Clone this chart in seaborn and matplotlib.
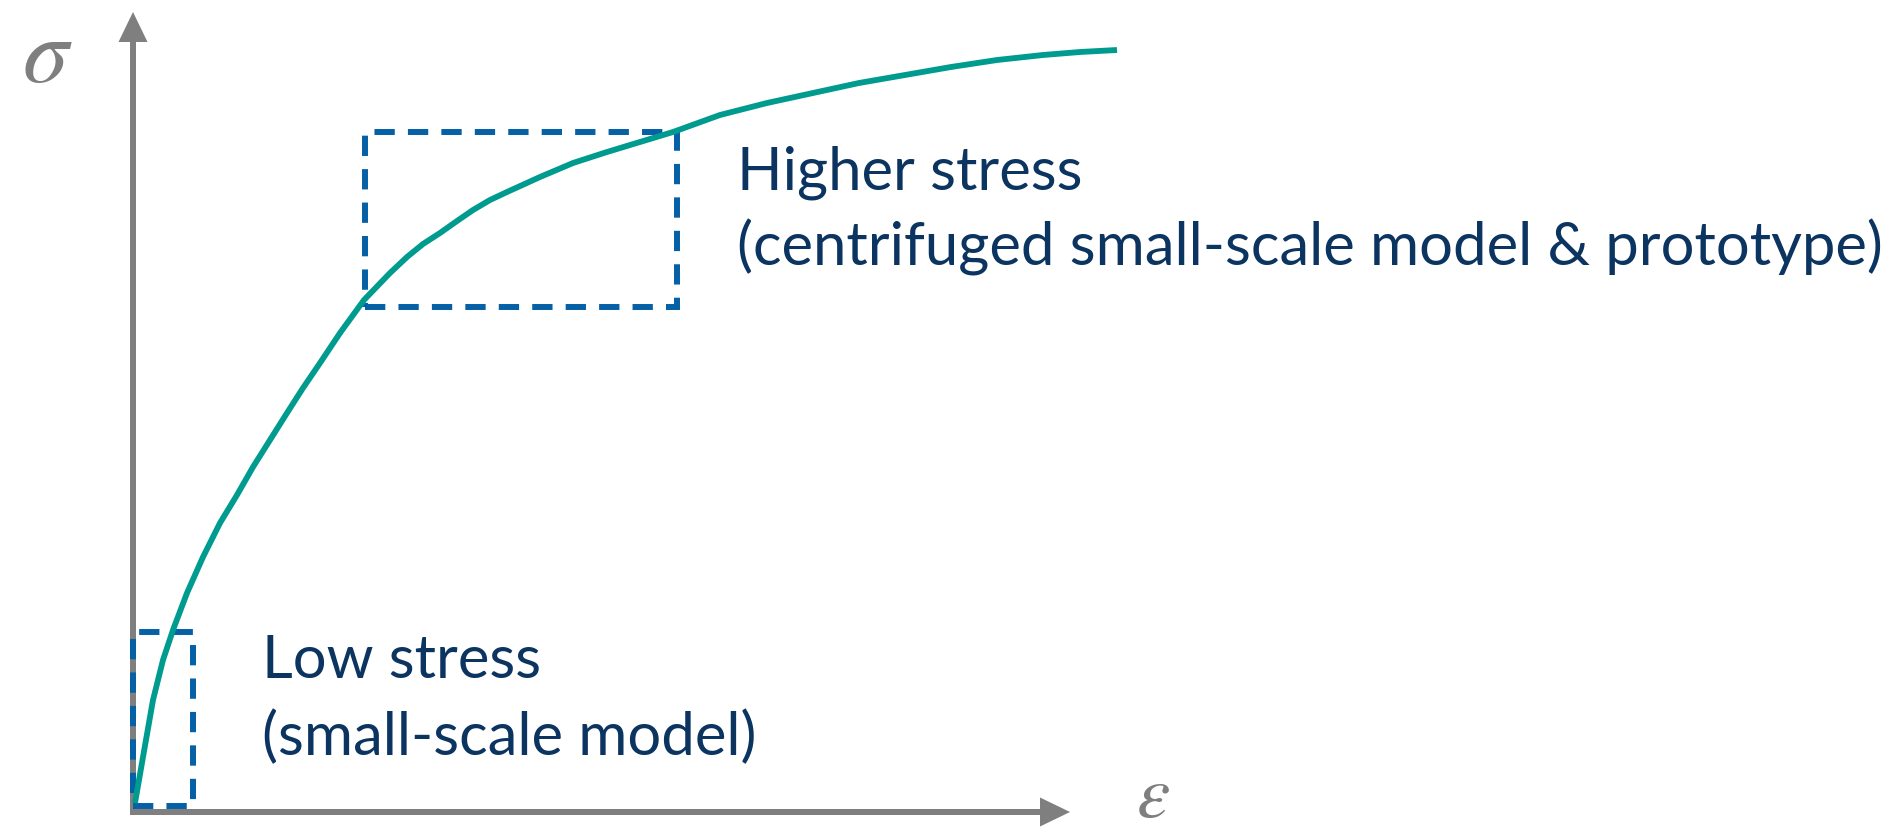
import numpy as np
import pandas as pd
import matplotlib
matplotlib.use('Agg')
import matplotlib.pyplot as plt
from matplotlib.patches import Rectangle, FancyArrow
import seaborn as sns

sns.set_theme(style='white')
plt.rcParams['font.family'] = ['Lato', 'DejaVu Sans']
plt.rcParams['mathtext.fontset'] = 'stix'

# stress-strain curve (arbitrary units)
strain = [0.02, 0.10, 0.20, 0.30, 0.40, 0.54, 0.70, 0.87, 1.04, 1.20, 1.37,
          1.54, 1.70, 1.87, 2.07, 2.31, 2.57, 2.74, 2.90, 3.07, 3.24, 3.40,
          3.57, 3.74, 4.07, 4.40, 4.74, 5.07, 5.40, 5.87, 6.34, 6.80, 7.26,
          7.72, 8.18, 8.64, 9.10, 9.47, 9.84]
stress = [0.09, 0.55, 1.12, 1.52, 1.82, 2.19, 2.55, 2.89, 3.17, 3.45, 3.72,
          3.99, 4.24, 4.49, 4.79, 5.12, 5.39, 5.55, 5.68, 5.79, 5.91, 6.02,
          6.12, 6.20, 6.35, 6.49, 6.60, 6.70, 6.80, 6.97, 7.09, 7.19, 7.29,
          7.37, 7.45, 7.52, 7.57, 7.60, 7.62]

# the two stress windows: (strain_min, strain_max, stress_min, stress_max)
low_box = (0.00, 0.60, 0.06, 1.80)
high_box = (2.32, 5.44, 5.05, 6.80)

labels_low = ['Low stress', '(small-scale model)']
labels_high = ['Higher stress', '(centrifuged small-scale model & prototype)']

axis_end_x = 9.37
axis_end_y = 8.00

curve_col = '#009b8f'
box_col = '#0560a6'
text_col = '#0b3460'
axis_col = '#7f7f7f'

df = pd.DataFrame({'strain': strain, 'stress': stress})

fig = plt.figure(figsize=(18.91, 8.32), dpi=100)
ax = fig.add_axes([0, 0, 1, 1])
ax.set_xlim(-1.33, 17.58)
ax.set_ylim(-0.20, 8.12)
ax.axis('off')

# axes arrows
ax.add_patch(FancyArrow(0, -0.03, 0, axis_end_y + 0.03, width=0.06, head_width=0.29,
                        head_length=0.30, length_includes_head=True, color=axis_col, lw=0))
ax.add_patch(FancyArrow(-0.03, 0, axis_end_x + 0.03, 0, width=0.06, head_width=0.29,
                        head_length=0.30, length_includes_head=True, color=axis_col, lw=0))

# dashed windows
for b in [low_box, high_box]:
    ax.add_patch(Rectangle((b[0], b[2]), b[1] - b[0], b[3] - b[2], fill=False,
                           edgecolor=box_col, lw=4.3, linestyle=(0, (3.4, 2.2)),
                           joinstyle='miter', zorder=3))

sns.lineplot(data=df, x='strain', y='stress', sort=False, color=curve_col,
             lw=4.2, ax=ax, zorder=4, solid_capstyle='butt', solid_joinstyle='round')
ax.axis('off')

# texts
fs = 43
ax.text(6.04, 6.22, labels_high[0], fontsize=fs, color=text_col, va='baseline')
ax.text(6.04, 5.47, labels_high[1], fontsize=fs, color=text_col, va='baseline')
ax.text(1.29, 1.34, labels_low[0], fontsize=fs, color=text_col, va='baseline')
ax.text(1.29, 0.57, labels_low[1], fontsize=fs, color=text_col, va='baseline')

ax.text(-0.86, 7.55, r'$\sigma$', fontsize=66, color=axis_col, ha='center', va='center')
ax.text(10.20, 0.17, r'$\varepsilon$', fontsize=54, color=axis_col, ha='center', va='center')

fig.savefig('out.png', dpi=100)
